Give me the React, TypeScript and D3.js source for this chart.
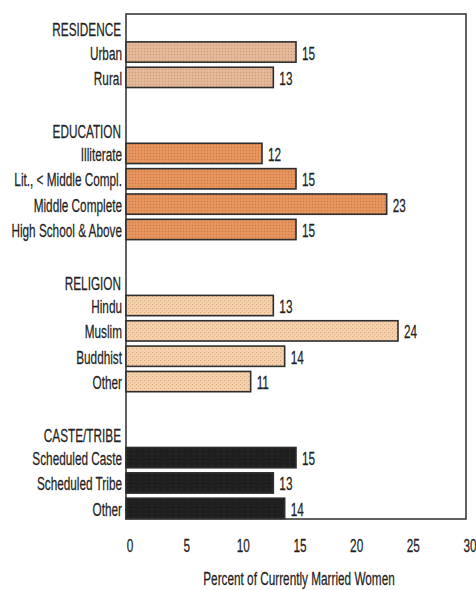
import React from "react";
import * as d3 from "d3";

const groups = ["RESIDENCE", "EDUCATION", "RELIGION", "CASTE/TRIBE"];
const residenceLabels = ["Urban", "Rural"];
const residenceValues = [15, 13];
const educationLabels = ["Illiterate", "Lit., < Middle Compl.", "Middle Complete", "High School & Above"];
const educationValues = [12, 15, 23, 15];
const religionLabels = ["Hindu", "Muslim", "Buddhist", "Other"];
const religionValues = [13, 24, 14, 11];
const casteLabels = ["Scheduled Caste", "Scheduled Tribe", "Other"];
const casteValues = [15, 13, 14];
const xTicks = [0, 5, 10, 15, 20, 25, 30];
const xTitle = "Percent of Currently Married Women";

const groupFills = ["url(#patRes)", "url(#patEdu)", "url(#patRel)", "url(#patCaste)"];

type Row = { id: string; kind: "header" | "bar" | "blank"; label?: string; value?: number; g: number };

const groupData: [string[], number[]][] = [
  [residenceLabels, residenceValues],
  [educationLabels, educationValues],
  [religionLabels, religionValues],
  [casteLabels, casteValues],
];

const rows: Row[] = [];
groupData.forEach(([labels, values], gi) => {
  if (gi > 0) rows.push({ id: `blank${gi}`, kind: "blank", g: gi });
  rows.push({ id: `h${gi}`, kind: "header", label: groups[gi], g: gi });
  labels.forEach((l, i) => rows.push({ id: `b${gi}_${i}`, kind: "bar", label: l, value: values[i], g: gi }));
});

const W = 476;
const H = 590;
const FONT = "'Liberation Sans', Arial, Helvetica, sans-serif";
const SX = 0.62;
const FS = 19;

export default function App() {
  const x = d3.scaleLinear().domain([0, 30]).range([126, 466]);
  const y = d3
    .scaleBand<string>()
    .domain(rows.map((r) => r.id))
    .range([14, 521])
    .paddingInner(0.2)
    .paddingOuter(0.1);
  const bw = y.bandwidth();
  const frameTop = 14;
  const frameBottom = 519;

  const txt = (tx: number, ty: number, s: string, anchor: string, key?: string) => (
    <text
      key={key}
      transform={`translate(${tx},${ty}) scale(${SX},1)`}
      textAnchor={anchor}
      fontFamily={FONT}
      fontSize={FS}
      fill="#222"
      stroke="#222"
      strokeWidth={0.25}
    >
      {s}
    </text>
  );

  return (
    <svg
      width={W}
      height={H}
      style={{ position: "absolute", left: 0, top: 0, background: "#fff" }}
    >
      <defs>
        <pattern id="patRes" width="3" height="3" patternUnits="userSpaceOnUse">
          <rect width="3" height="3" fill="#e2b595" />
          <rect x="0" y="0" width="1" height="1" fill="#c99a7c" />
          <rect x="1.5" y="1.5" width="1" height="1" fill="#efc9ad" />
        </pattern>
        <pattern id="patEdu" width="3" height="3" patternUnits="userSpaceOnUse">
          <rect width="3" height="3" fill="#e4925a" />
          <rect x="0" y="0" width="1" height="1" fill="#cf7a45" />
          <rect x="1.5" y="1.5" width="1" height="1" fill="#eea670" />
        </pattern>
        <pattern id="patRel" width="4" height="4" patternUnits="userSpaceOnUse">
          <rect width="4" height="4" fill="#f6d2ab" />
          <rect x="0" y="0" width="1.2" height="1.2" fill="#d9a986" />
          <rect x="2" y="2" width="1.2" height="1.2" fill="#e2b898" />
        </pattern>
        <pattern id="patCaste" width="6" height="4" patternUnits="userSpaceOnUse">
          <rect width="6" height="4" fill="#1f1f1f" />
          <rect x="1" y="1" width="2" height="1" fill="#2c2c2c" />
        </pattern>
      </defs>

      <rect
        x={x(0)}
        y={frameTop}
        width={x(30) - x(0)}
        height={frameBottom - frameTop}
        fill="none"
        stroke="#3a3a3a"
        strokeWidth={1.6}
      />

      {rows.map((r) => {
        const y0 = y(r.id) as number;
        const cy = y0 + bw / 2;
        if (r.kind === "header") {
          return txt(x(0) - 5, cy + 9.5, r.label as string, "end", r.id);
        }
        if (r.kind === "bar") {
          const v = r.value as number;
          return (
            <g key={r.id}>
              <rect
                x={x(0)}
                y={y0}
                width={x(v) - x(0)}
                height={bw}
                fill={groupFills[r.g]}
                stroke="#2e2e2e"
                strokeWidth={1.6}
              />
              {txt(x(0) - 4, cy + 7.5, r.label as string, "end")}
              {txt(x(v) + 6, cy + 7.5, String(v), "start")}
            </g>
          );
        }
        return null;
      })}

      {xTicks.map((t) => txt(x(t) + 4, 552, String(t), "middle", `t${t}`))}

      {txt((x(0) + x(30)) / 2 + 3, 585, xTitle, "middle", "title")}
    </svg>
  );
}
